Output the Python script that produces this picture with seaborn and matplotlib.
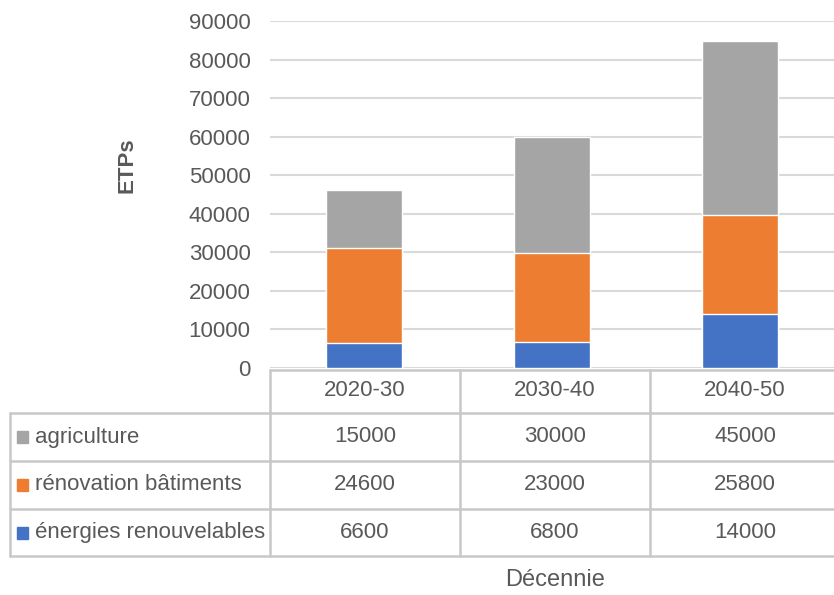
import matplotlib
matplotlib.use("Agg")
import matplotlib.pyplot as plt
import seaborn as sns
import pandas as pd
import numpy as np

decades = ["2020-30", "2030-40", "2040-50"]
series_names = ["agriculture", "rénovation bâtiments", "énergies renouvelables"]
agriculture = [15000, 30000, 45000]
renovation = [24600, 23000, 25800]
energies = [6600, 6800, 14000]
yticks = [0, 10000, 20000, 30000, 40000, 50000, 60000, 70000, 80000, 90000]

colors = {"agriculture": "#A5A5A5", "rénovation bâtiments": "#ED7D31",
          "énergies renouvelables": "#4472C4"}
text_color = "#595959"
line_color = "#C8C8C8"

sns.set_style("white")
plt.rcParams["font.family"] = ["Liberation Sans", "DejaVu Sans"]

FS = 16
W, H = 834, 595
fig = plt.figure(figsize=(W / 100, H / 100), dpi=100)

def fx(px):
    return px / W

def fy(py):
    return 1 - py / H

ax = fig.add_axes([fx(270), fy(368), fx(834) - fx(270), fy(21) - fy(368)])

# stacked columns: draw cumulative totals from the top segment down
df = pd.DataFrame({"decade": decades, "agriculture": agriculture,
                   "renovation": renovation, "energies": energies})
df["top"] = df["agriculture"] + df["renovation"] + df["energies"]
df["mid"] = df["renovation"] + df["energies"]
for col, name in [("top", "agriculture"), ("mid", "rénovation bâtiments"),
                  ("energies", "énergies renouvelables")]:
    sns.barplot(data=df, x="decade", y=col, color=colors[name], width=0.4,
                saturation=1, ax=ax, zorder=3)

ax.set_xlim(-0.5, 2.5)
ax.set_ylim(0, 90000)
ax.set_yticks(yticks)
ax.set_yticklabels([str(v) for v in yticks], fontsize=FS, color=text_color)
ax.tick_params(axis="y", length=0, pad=14)
ax.set_xticks([])
ax.set_xlabel("")
ax.set_ylabel("")
ax.grid(axis="y", color="#D9D9D9", linewidth=1.5, zorder=0)
for s in ax.spines.values():
    s.set_visible(False)

fig.text(fx(127), fy(165), "ETPs", rotation=90, ha="center", va="center",
         fontsize=FS, fontweight="bold", color=text_color)

# data table below the plot
col_edges = [270, 460, 650, 840]
row_edges = [370, 413, 461, 509, 556]
lw = 1.8
fig.add_artist(plt.Line2D([fx(270), fx(840)], [fy(370), fy(370)], color=line_color, lw=lw))
for xe in col_edges:
    fig.add_artist(plt.Line2D([fx(xe), fx(xe)], [fy(370), fy(556)], color=line_color, lw=lw))
for ye in row_edges[1:]:
    fig.add_artist(plt.Line2D([fx(10), fx(840)], [fy(ye), fy(ye)], color=line_color, lw=lw))
fig.add_artist(plt.Line2D([fx(10), fx(10)], [fy(413), fy(556)], color=line_color, lw=lw))

for i, d in enumerate(decades):
    cx = (col_edges[i] + col_edges[i + 1]) / 2
    fig.text(fx(cx), fy(391), d, ha="center", va="center", fontsize=FS, color=text_color)

rows = [("agriculture", agriculture), ("rénovation bâtiments", renovation),
        ("énergies renouvelables", energies)]
for r, (name, vals) in enumerate(rows):
    cy = (row_edges[r + 1] + row_edges[r + 2]) / 2
    fig.add_artist(plt.Rectangle((fx(17), fy(cy + 6)), fx(11), fy(0) - fy(12),
                                 color=colors[name], transform=fig.transFigure))
    fig.text(fx(35), fy(cy), name, ha="left", va="center", fontsize=FS, color=text_color)
    for i, v in enumerate(vals):
        cx = (col_edges[i] + col_edges[i + 1]) / 2
        fig.text(fx(cx), fy(cy), str(v), ha="center", va="center", fontsize=FS,
                 color=text_color)

fig.text(fx(555), fy(580), "Décennie", ha="center", va="center", fontsize=17,
         color=text_color)

fig.savefig("out.png", dpi=100)
